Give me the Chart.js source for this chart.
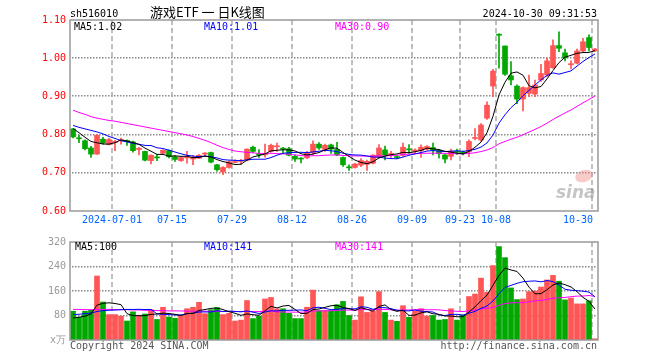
<!DOCTYPE html>
<html>
<head>
<meta charset="utf-8">
<script src="https://cdn.jsdelivr.net/npm/chart.js@4.4.1/dist/chart.umd.min.js"></script>
<style>
body { margin: 0; background: #fff; width: 660px; height: 360px; position: relative; overflow: hidden; }
canvas { position: absolute; left: 0; }
.t { position: absolute; white-space: pre; font-family: "DejaVu Sans Mono", monospace; font-size: 10px; line-height: 12px; }
.r { text-align: right; }
</style>
</head>
<body>
<canvas id="kline" width="660" height="232" style="top:0"></canvas>
<canvas id="vol" width="660" height="128" style="top:232px"></canvas>

<div class="t" style="left:70px;top:7.5px">sh516010</div>
<div class="t" style="left:150px;top:4px;font-family:'Noto Sans CJK SC';font-size:13px;line-height:16px">游戏ETF 一 日K线图</div>
<div class="t r" style="right:63px;top:7.5px">2024-10-30 09:31:53</div>

<div class="t" style="left:74px;top:20.5px;color:#000">MA5:1.02</div>
<div class="t" style="left:204px;top:20.5px;color:#0000ff">MA10:1.01</div>
<div class="t" style="left:335px;top:20.5px;color:#ff00ff">MA30:0.90</div>

<div class="t" style="left:75px;top:241px;color:#000">MA5:100</div>
<div class="t" style="left:204px;top:241px;color:#0000ff">MA10:141</div>
<div class="t" style="left:335px;top:241px;color:#ff00ff">MA30:141</div>

<div class="t" style="left:70px;top:339.5px;color:#555">Copyright 2024 SINA.COM</div>
<div class="t r" style="right:63px;top:339.5px;color:#555">http://finance.sina.com.cn</div>

<script>
// 交易日 2024-06-20 .. 2024-10-30
var dates = [
  '06-20', '06-21', '06-24', '06-25', '06-26', '06-27', '06-28',
  '07-01', '07-02', '07-03', '07-04', '07-05', '07-08', '07-09', '07-10', '07-11', '07-12',
  '07-15', '07-16', '07-17', '07-18', '07-19', '07-22', '07-23', '07-24', '07-25', '07-26',
  '07-29', '07-30', '07-31', '08-01', '08-02', '08-05', '08-06', '08-07', '08-08', '08-09',
  '08-12', '08-13', '08-14', '08-15', '08-16', '08-19', '08-20', '08-21', '08-22', '08-23',
  '08-26', '08-27', '08-28', '08-29', '08-30', '09-02', '09-03', '09-04', '09-05', '09-06',
  '09-09', '09-10', '09-11', '09-12', '09-13', '09-18', '09-19', '09-20',
  '09-23', '09-24', '09-25', '09-26', '09-27', '09-30',
  '10-08', '10-09', '10-10', '10-11', '10-14', '10-15', '10-16', '10-17', '10-18',
  '10-21', '10-22', '10-23', '10-24', '10-25', '10-28', '10-29', '10-30'
];

var gridDates = ['07-01', '07-15', '07-29', '08-12', '08-26', '09-09', '09-23', '10-08', '10-30'];
var tickLabels = ['2024-07-01', '07-15', '07-29', '08-12', '08-26', '09-09', '09-23', '10-08', '10-30'];
var priceTicks = [1.0, 0.9, 0.8, 0.7];
var volumeTicks = [240, 160, 80];

var opens = [
  0.815, 0.790, 0.784, 0.765, 0.749, 0.788, 0.774, 0.779, 0.784, 0.783,
  0.781, 0.761, 0.756, 0.732, 0.740, 0.751, 0.758, 0.742, 0.732, 0.739,
  0.736, 0.738, 0.749, 0.753, 0.721, 0.702, 0.714, 0.727, 0.730, 0.733,
  0.767, 0.749, 0.747, 0.756, 0.768, 0.764, 0.763, 0.743, 0.737, 0.739,
  0.753, 0.775, 0.761, 0.773, 0.761, 0.740, 0.715, 0.714, 0.720, 0.722,
  0.725, 0.740, 0.760, 0.748, 0.742, 0.746, 0.762, 0.757, 0.758, 0.762,
  0.766, 0.759, 0.747, 0.743, 0.756, 0.755, 0.755, 0.790, 0.786, 0.843,
  0.927, 1.063, 1.032, 0.954, 0.927, 0.893, 0.908, 0.906, 0.943, 0.956,
  0.975, 1.033, 1.014, 0.983, 0.987, 1.019, 1.054, 1.019
];
var highs = [
  0.816, 0.798, 0.786, 0.769, 0.800, 0.793, 0.790, 0.785, 0.791, 0.786,
  0.783, 0.767, 0.757, 0.747, 0.749, 0.760, 0.760, 0.745, 0.741, 0.756,
  0.745, 0.748, 0.753, 0.754, 0.722, 0.716, 0.731, 0.734, 0.735, 0.763,
  0.770, 0.761, 0.775, 0.775, 0.778, 0.767, 0.767, 0.747, 0.740, 0.756,
  0.784, 0.779, 0.775, 0.775, 0.780, 0.742, 0.721, 0.725, 0.737, 0.733,
  0.748, 0.774, 0.770, 0.756, 0.746, 0.778, 0.774, 0.763, 0.773, 0.771,
  0.778, 0.761, 0.748, 0.762, 0.762, 0.757, 0.786, 0.816, 0.829, 0.886,
  0.971, 1.064, 1.032, 0.991, 0.930, 0.925, 0.956, 0.943, 0.984, 1.000,
  1.048, 1.069, 1.024, 0.993, 1.024, 1.052, 1.061, 1.026
];
var lows = [
  0.791, 0.779, 0.760, 0.740, 0.748, 0.775, 0.773, 0.758, 0.775, 0.772,
  0.754, 0.747, 0.731, 0.723, 0.732, 0.750, 0.739, 0.730, 0.730, 0.725,
  0.721, 0.737, 0.745, 0.726, 0.704, 0.695, 0.712, 0.726, 0.722, 0.731,
  0.753, 0.740, 0.741, 0.754, 0.756, 0.751, 0.744, 0.730, 0.726, 0.737,
  0.747, 0.761, 0.756, 0.751, 0.745, 0.717, 0.706, 0.712, 0.716, 0.706,
  0.723, 0.738, 0.734, 0.740, 0.737, 0.743, 0.751, 0.752, 0.740, 0.759,
  0.747, 0.738, 0.726, 0.734, 0.748, 0.747, 0.742, 0.786, 0.783, 0.840,
  0.899, 0.974, 0.955, 0.930, 0.881, 0.862, 0.899, 0.899, 0.939, 0.952,
  0.973, 1.017, 0.993, 0.972, 0.985, 1.017, 1.019, 1.018
];
var closes = [
  0.794, 0.789, 0.763, 0.749, 0.798, 0.778, 0.787, 0.782, 0.786, 0.782,
  0.758, 0.764, 0.733, 0.746, 0.739, 0.759, 0.742, 0.735, 0.740, 0.741,
  0.740, 0.746, 0.751, 0.728, 0.708, 0.714, 0.729, 0.729, 0.732, 0.762,
  0.756, 0.747, 0.750, 0.772, 0.770, 0.762, 0.746, 0.736, 0.736, 0.753,
  0.775, 0.765, 0.772, 0.762, 0.747, 0.721, 0.713, 0.723, 0.732, 0.730,
  0.746, 0.765, 0.746, 0.750, 0.740, 0.767, 0.760, 0.759, 0.767, 0.769,
  0.759, 0.750, 0.736, 0.757, 0.754, 0.750, 0.782, 0.791, 0.825, 0.877,
  0.966, 1.060, 0.958, 0.943, 0.893, 0.923, 0.923, 0.930, 0.960, 0.993,
  1.033, 1.026, 1.001, 0.985, 1.019, 1.043, 1.028, 1.024
];
// 成交量 (万)
var volumes = [
  94, 75, 94, 97, 209, 124, 83, 83, 78, 62,
  92, 81, 85, 99, 67, 107, 75, 71, 79, 102,
  107, 123, 86, 99, 106, 83, 87, 62, 65, 129,
  70, 78, 134, 139, 102, 102, 87, 70, 70, 107,
  163, 96, 97, 96, 115, 126, 80, 65, 141, 90,
  94, 158, 90, 65, 61, 112, 74, 94, 102, 78,
  80, 65, 67, 102, 65, 82, 142, 150, 202, 156,
  243, 305, 269, 170, 132, 134, 158, 160, 173, 196,
  211, 192, 131, 137, 118, 118, 128, 4
];

// MA values at the left edge (window starts before the visible range)
var priceMa5Head = [0.816, 0.805, 0.793, 0.782];
var priceMa10Head = [0.824, 0.819, 0.815, 0.811, 0.807, 0.802, 0.795, 0.790, 0.784];
var priceMa30Head = [
  0.864, 0.858, 0.853, 0.847, 0.843, 0.840, 0.837, 0.835, 0.832, 0.829,
  0.826, 0.823, 0.820, 0.817, 0.814, 0.811, 0.808, 0.805, 0.802, 0.799,
  0.795, 0.790, 0.785, 0.779, 0.772, 0.766, 0.761, 0.757, 0.755
];
var volMa5Head = [72, 74, 78, 85];
var volMa10Head = [83, 84, 86, 88, 93, 96, 97, 98, 99];
var volMa30Head = [
  100, 100, 99, 99, 100, 100, 100, 99, 99, 99,
  98, 98, 97, 97, 96, 96, 95, 95, 95, 94,
  94, 94, 94, 94, 94, 93, 93, 93, 93
];

var UP = '#ff5555', DOWN = '#00a800';
var MONO = 'DejaVu Sans Mono';

function movingAvg(values, n, head) {
  return values.map(function (v, i) {
    if (i < n - 1) return head[i];
    var s = 0;
    for (var k = i - n + 1; k <= i; k++) s += values[k];
    return s / n;
  });
}

var barColors = closes.map(function (c, i) { return c >= opens[i] ? UP : DOWN; });
var bodies = opens.map(function (o, i) { return [o, closes[i]]; });
var wicks = lows.map(function (l, i) { return [l, highs[i]]; });

function maLine(data, color) {
  return { type: 'line', data: data, borderColor: color, borderWidth: 1, pointRadius: 0, tension: 0, order: 0 };
}

function decor(isPrice, hTicks) {
  return {
    id: 'decor',
    beforeDatasetsDraw: function (chart) {
      var ctx = chart.ctx, a = chart.chartArea, xs = chart.scales.x, ys = chart.scales.y;
      var half = (xs.getPixelForValue(1) - xs.getPixelForValue(0)) / 2;
      ctx.save();
      // dotted horizontal grid
      ctx.fillStyle = '#8a8a8a';
      hTicks.forEach(function (v) {
        var y = Math.round(ys.getPixelForValue(v)) - 1;
        for (var x = Math.ceil(a.left) + 2; x < a.right - 1; x += 3) {
          ctx.fillRect(x, y, 1.5, 1.5);
        }
      });
      // dashed verticals at date ticks
      ctx.strokeStyle = '#aaa';
      ctx.lineWidth = 1.5;
      ctx.setLineDash([5, 3]);
      gridDates.forEach(function (d) {
        var x = Math.round(xs.getPixelForValue(dates.indexOf(d)) - half);
        ctx.beginPath();
        ctx.moveTo(x, a.top);
        ctx.lineTo(x, a.bottom);
        ctx.stroke();
      });
      ctx.setLineDash([]);
      if (isPrice) {
        // sina watermark
        ctx.fillStyle = 'rgba(240,140,140,0.45)';
        ctx.beginPath();
        ctx.ellipse(584, 176, 9, 6, -0.3, 0, Math.PI * 2);
        ctx.fill();
        ctx.fillStyle = 'rgba(150,150,150,0.55)';
        ctx.font = 'italic bold 17px "DejaVu Sans"';
        ctx.fillText('sina', 556, 198);
      }
      ctx.restore();
    },
    afterDraw: function (chart) {
      var ctx = chart.ctx, a = chart.chartArea, xs = chart.scales.x;
      ctx.save();
      ctx.strokeStyle = '#999';
      ctx.lineWidth = 1.5;
      ctx.strokeRect(a.left, a.top, a.right - a.left, a.bottom - a.top);
      if (isPrice) {
        var half = (xs.getPixelForValue(1) - xs.getPixelForValue(0)) / 2;
        ctx.font = '10px "' + MONO + '"';
        ctx.fillStyle = '#0066ff';
        gridDates.forEach(function (d, k) {
          var last = k === gridDates.length - 1;
          var x = xs.getPixelForValue(dates.indexOf(d)) - half;
          ctx.textAlign = last ? 'right' : 'center';
          ctx.fillText(tickLabels[k], last ? x + 1 : x, 223);
        });
      }
      ctx.restore();
    }
  };
}

var common = {
  responsive: false,
  animation: false,
  events: [],
  plugins: { legend: { display: false }, tooltip: { enabled: false } }
};

new Chart(document.getElementById('kline'), {
  type: 'bar',
  data: {
    labels: dates,
    datasets: [
      maLine(movingAvg(closes, 5, priceMa5Head), '#000000'),
      maLine(movingAvg(closes, 10, priceMa10Head), '#0000ff'),
      maLine(movingAvg(closes, 30, priceMa30Head), '#ff00ff'),
      { data: bodies, backgroundColor: barColors, barThickness: 5, minBarLength: 1, grouped: false, order: 1 },
      { data: wicks, backgroundColor: barColors, barThickness: 1, minBarLength: 1, grouped: false, order: 2 }
    ]
  },
  options: Object.assign({}, common, {
    layout: { padding: { left: 0, right: 62, top: 20, bottom: 21 } },
    scales: {
      x: { type: 'category', offset: true, display: false },
      y: {
        min: 0.6, max: 1.1,
        afterFit: function (s) { s.width = 70; },
        ticks: {
          stepSize: 0.1, color: '#ff0000', padding: 4,
          font: { family: MONO, size: 10 },
          callback: function (v) { return Number(v).toFixed(2); }
        },
        grid: { display: false, drawTicks: false },
        border: { display: false }
      }
    }
  }),
  plugins: [decor(true, priceTicks)]
});

new Chart(document.getElementById('vol'), {
  type: 'bar',
  data: {
    labels: dates,
    datasets: [
      maLine(movingAvg(volumes, 5, volMa5Head), '#000000'),
      maLine(movingAvg(volumes, 10, volMa10Head), '#0000ff'),
      maLine(movingAvg(volumes, 30, volMa30Head), '#ff00ff'),
      { data: volumes, backgroundColor: barColors, barThickness: 5, grouped: false, order: 1 }
    ]
  },
  options: Object.assign({}, common, {
    layout: { padding: { left: 0, right: 62, top: 8, bottom: 20 } },
    scales: {
      x: { type: 'category', offset: true, display: false },
      y: {
        min: 0, max: 320,
        afterFit: function (s) { s.width = 70; },
        ticks: {
          stepSize: 80, color: '#999', padding: 4,
          font: { family: MONO, size: 10 },
          callback: function (v) { return v === 0 ? 'x万' : v; }
        },
        grid: { display: false, drawTicks: false },
        border: { display: false }
      }
    }
  }),
  plugins: [decor(false, volumeTicks)]
});
</script>
</body>
</html>
